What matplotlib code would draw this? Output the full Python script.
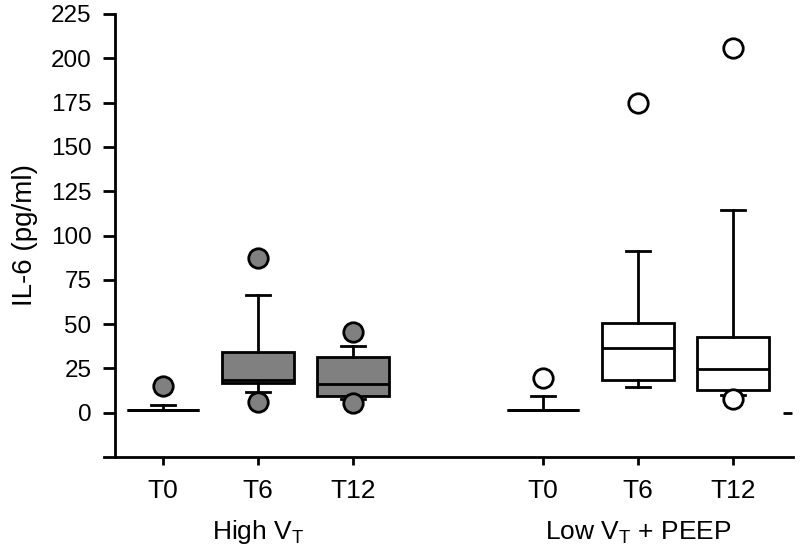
import matplotlib
matplotlib.use('Agg')
import matplotlib.pyplot as plt

plt.rcParams['font.family'] = ['Liberation Sans', 'DejaVu Sans']

# box positions and labels
positions = [1, 2, 3, 5, 6, 7]
tick_labels = ['T0', 'T6', 'T12', 'T0', 'T6', 'T12']
group_labels = ['High V$_{\\mathregular{T}}$', 'Low V$_{\\mathregular{T}}$ + PEEP']
group_centers = [2, 6]

# IL-6 (pg/ml) summary values
q1 = [1.3, 17.0, 9.2, 1.3, 18.4, 13.0]
med = [1.3, 18.3, 16.0, 1.3, 36.4, 24.8]
q3 = [1.3, 34.0, 31.5, 1.3, 50.7, 43.0]
whislo = [1.3, 11.8, 8.0, 1.3, 14.5, 9.8]
whishi = [4.1, 66.4, 37.7, 9.2, 91.2, 114.5]
fliers = [[15.0], [87.3, 6.2], [45.6, 5.6], [19.7], [174.5], [206.0, 7.9]]
fills = ['#808080', '#808080', '#808080', 'white', 'white', 'white']

# stray mark at the right end of the axis
stray_x = [7.57]
stray_y = [0.0]

stats = []
for i in range(len(positions)):
    stats.append({'med': med[i], 'q1': q1[i], 'q3': q3[i],
                  'whislo': whislo[i], 'whishi': whishi[i],
                  'fliers': fliers[i]})

fig = plt.figure(figsize=(8, 5.56), dpi=100)
ax = fig.add_axes([104 / 800, (556 - 457) / 556, (793 - 104) / 800, (457 - 14) / 556])

lw = 2.0
bp = ax.bxp(stats, positions=positions, widths=0.76, capwidths=0.25,
            patch_artist=True, showfliers=True,
            boxprops=dict(linewidth=lw, edgecolor='black'),
            whiskerprops=dict(linewidth=lw, color='black'),
            capprops=dict(linewidth=lw, color='black'),
            medianprops=dict(linewidth=lw, color='black'),
            flierprops=dict(marker='o', markersize=14, markeredgewidth=lw,
                            markeredgecolor='black'))
for box, c in zip(bp['boxes'], fills):
    box.set_facecolor(c)
for fl, c in zip(bp['fliers'], fills):
    fl.set_markerfacecolor(c)
    fl.set_zorder(3)

ax.hlines(stray_y, [x - 0.05 for x in stray_x], [x + 0.05 for x in stray_x],
          color='black', linewidth=lw, clip_on=False)

ax.set_xlim(0.379, 7.63)
ax.set_ylim(-25, 225)
ax.set_yticks(range(0, 226, 25))
ax.set_xticks(positions)
ax.set_xticklabels(tick_labels)

ax.spines['top'].set_visible(False)
ax.spines['right'].set_visible(False)
ax.spines['left'].set_position(('data', 0.495))
for s in ['left', 'bottom']:
    ax.spines[s].set_linewidth(lw)

ax.tick_params(axis='y', direction='out', length=9, width=lw, labelsize=17.5, pad=8)
ax.tick_params(axis='x', direction='out', length=6, width=lw, labelsize=19, pad=10)

ax.set_ylabel('IL-6 (pg/ml)', fontsize=20, labelpad=9)

for x, lab in zip(group_centers, group_labels):
    ax.text(x, -0.17, lab, transform=ax.get_xaxis_transform(),
            ha='center', va='center', fontsize=19)

fig.savefig('out.png', dpi=100)
